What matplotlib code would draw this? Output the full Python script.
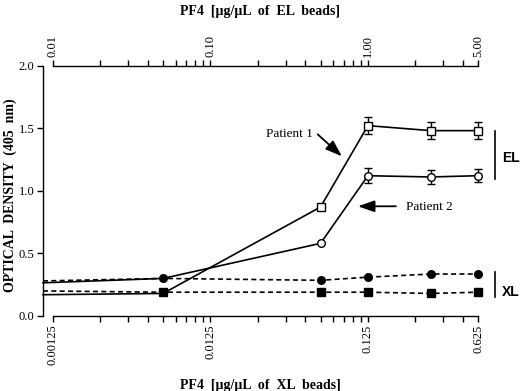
import numpy as np
import matplotlib
matplotlib.use("Agg")
import matplotlib.pyplot as plt
from matplotlib.ticker import FixedLocator, NullFormatter
import matplotlib.transforms as mtransforms

plt.rcParams["font.family"] = ["Liberation Serif", "DejaVu Serif"]

# =========================
# DATA
# =========================
# first entry = baseline drawn from the y axis (no marker)
XMIN = 0.00108
conc_xl = [XMIN, 0.00625, 0.0625, 0.125, 0.3125, 0.625]

el_p1 = [0.17, 0.18, 0.87, 1.52, 1.48, 1.48]
el_p1_err = [0, 0, 0, 0.07, 0.07, 0.065]
el_p2 = [0.265, 0.30, 0.58, 1.12, 1.11, 1.12]
el_p2_err = [0, 0, 0, 0.06, 0.055, 0.05]

xl_p1 = [0.20, 0.19, 0.19, 0.19, 0.18, 0.19]
xl_p2 = [0.28, 0.30, 0.285, 0.31, 0.335, 0.335]

bottom_ticks = [0.00125, 0.0125, 0.125, 0.625]
bottom_labels = ["0.00125", "0.0125", "0.125", "0.625"]
top_ticks = [0.01, 0.10, 1.00, 5.00]
top_labels = ["0.01", "0.10", "1.00", "5.00"]
y_ticks = [0.0, 0.5, 1.0, 1.5, 2.0]

EL_TO_XL = 8.0  # top axis = bottom axis * 8


def minor_ticks(start, stop):
    out = []
    base = start
    while base < stop:
        for m in range(2, 10):
            v = base * m
            if v < stop * 0.999:
                out.append(v)
        base *= 10
    return out


# =========================
# FIGURE
# =========================
fig = plt.figure(figsize=(5.2, 3.91), dpi=100)
ax = fig.add_axes([43 / 520, 1 - 316 / 391, (478 - 43) / 520, (316 - 65.5) / 391])

ax.set_xscale("log")
ax.set_xlim(XMIN, 0.625)
ax.set_ylim(0, 2.0)

lw = 1.2
# XL curves (dashed, filled markers)
ax.plot(conc_xl, xl_p1, color="black", lw=lw, ls=(0, (3, 2)), marker="s",
        ms=5.5, mfc="black", markevery=[1, 2, 3, 4, 5], clip_on=False, zorder=4)
ax.plot(conc_xl, xl_p2, color="black", lw=lw, ls=(0, (3, 2)), marker="o",
        ms=5.5, mfc="black", markevery=[1, 2, 3, 4, 5], clip_on=False, zorder=4)

# EL curves (solid, open markers)
ax.plot(conc_xl, el_p1, color="black", lw=lw, marker="s", ms=5.5, mfc="white",
        mew=1.0, markevery=[2, 3, 4, 5], clip_on=False, zorder=3)
ax.plot(conc_xl, el_p2, color="black", lw=lw, marker="o", ms=5.5, mfc="white",
        mew=1.0, markevery=[2, 3, 4, 5], clip_on=False, zorder=3)

# error bars on the EL plateau
for vals, errs in [(el_p1, el_p1_err), (el_p2, el_p2_err)]:
    ax.errorbar(conc_xl[3:], vals[3:], yerr=errs[3:], fmt="none", ecolor="black",
                elinewidth=1.0, capsize=3, capthick=1.0, clip_on=False, zorder=2)

# spines
ax.spines["right"].set_visible(False)
ax.spines["top"].set_visible(False)
ax.spines["bottom"].set_bounds(0.00125, 0.625)
ax.spines["left"].set_bounds(0, 2.0)
for s in ["left", "bottom"]:
    ax.spines[s].set_linewidth(1.0)

ax.xaxis.set_major_locator(FixedLocator(bottom_ticks))
ax.xaxis.set_minor_locator(FixedLocator(minor_ticks(0.00125, 0.625)))
ax.xaxis.set_minor_formatter(NullFormatter())
ax.set_xticklabels(bottom_labels, rotation=90, fontsize=9)
ax.tick_params(axis="x", which="both", direction="out", length=4, width=1.0, pad=2)

# top axis (EL beads)
ax2 = ax.twiny()
ax2.set_xscale("log")
ax2.set_xlim(XMIN * EL_TO_XL, 0.625 * EL_TO_XL)
for s in ["left", "right", "bottom"]:
    ax2.spines[s].set_visible(False)
ax2.spines["top"].set_bounds(0.01, 5.0)
ax2.spines["top"].set_linewidth(1.0)
ax2.xaxis.set_major_locator(FixedLocator(top_ticks))
ax2.xaxis.set_minor_locator(FixedLocator(minor_ticks(0.01, 5.0)))
ax2.xaxis.set_minor_formatter(NullFormatter())
ax2.set_xticklabels(top_labels, rotation=90, fontsize=9)
ax2.tick_params(axis="x", which="both", direction="out", length=4, width=1.0, pad=2)

ax.set_yticks(y_ticks)
ax.set_yticklabels([f"{v:.1f}" for v in y_ticks], fontsize=9)
ax.tick_params(axis="y", direction="out", length=4, width=1.0, pad=2)

# axis titles
fig.text(260 / 520, 1 - 12 / 391, "PF4  [\u00b5g/\u00b5L  of  EL  beads]",
         ha="center", va="center", fontsize=10, fontweight="bold")
fig.text(260 / 520, 1 - 386 / 391, "PF4  [\u00b5g/\u00b5L  of  XL  beads]",
         ha="center", va="center", fontsize=10, fontweight="bold")
fig.text(10 / 520, 1 - 195 / 391, "OPTICAL  DENSITY  (405  nm)", rotation=90,
         ha="center", va="center", fontsize=10, fontweight="bold")

# patient annotations
arrow = dict(arrowstyle="-|>,head_length=1.0,head_width=0.35", color="black",
             lw=1.3, shrinkA=0, shrinkB=0)
ax.annotate("", xy=(0.0854, 1.275), xytext=(0.060, 1.45), arrowprops=arrow)
ax.text(0.0558, 1.45, "Patient 1", ha="right", va="center", fontsize=9.5)
ax.annotate("", xy=(0.108, 0.876), xytext=(0.188, 0.876), arrowprops=arrow)
ax.text(0.218, 0.872, "Patient 2", ha="left", va="center", fontsize=9.5)

# EL / XL brackets
trans = mtransforms.blended_transform_factory(ax.transAxes, ax.transData)
ax.plot([1.039, 1.039], [1.09, 1.476], color="black", lw=1.2, transform=trans,
        clip_on=False)
ax.plot([1.039, 1.039], [0.15, 0.35], color="black", lw=1.2, transform=trans,
        clip_on=False)
ax.text(1.055, 1.26, "EL", transform=trans, ha="left", va="center", fontsize=10,
        fontweight="bold", family=["Liberation Sans", "DejaVu Sans"])
ax.text(1.055, 0.19, "XL", transform=trans, ha="left", va="center", fontsize=10,
        fontweight="bold", family=["Liberation Sans", "DejaVu Sans"])

fig.savefig("out.png", dpi=100)
